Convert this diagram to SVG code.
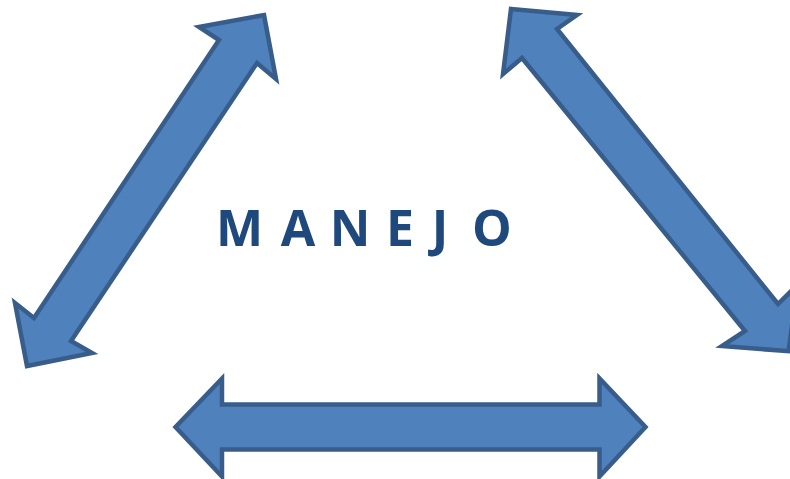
<svg xmlns="http://www.w3.org/2000/svg" width="790" height="479" viewBox="0 0 790 479">
<style>
.arrow{fill:#4F81BD;stroke:#385D8A;stroke-width:4.5;stroke-linejoin:miter;stroke-miterlimit:10}
.label{font-family:"Open Sans","Liberation Sans",sans-serif;font-weight:700;font-size:50px;fill:#1F497D}
</style>
<rect width="790" height="479" fill="#FFFFFF"/>
<g id="connectors">
<polygon id="arrow-left" class="arrow" points="264,15 276,79 257,63 71,341 92,353 27,366 15,303 34,318 219,40 199,27"/>
<polygon id="arrow-right" class="arrow" points="511,9 577,15 557,29 778,304 797.6,284.8 788.5,351.2 722,346 745,331 522,58 503,74"/>
<polygon id="arrow-bottom" class="arrow" points="175.5,427 222,378.5 222,404.5 599.5,404.5 599.5,378.5 645.5,427 599.5,476.5 599.5,449.5 222,449.5 222,476.5"/>
</g>
<g id="node-manejo">
<text class="label" x="239.5 298 350 400 440 492" y="245.5" text-anchor="middle">MANEJO</text>
</g>
</svg>
